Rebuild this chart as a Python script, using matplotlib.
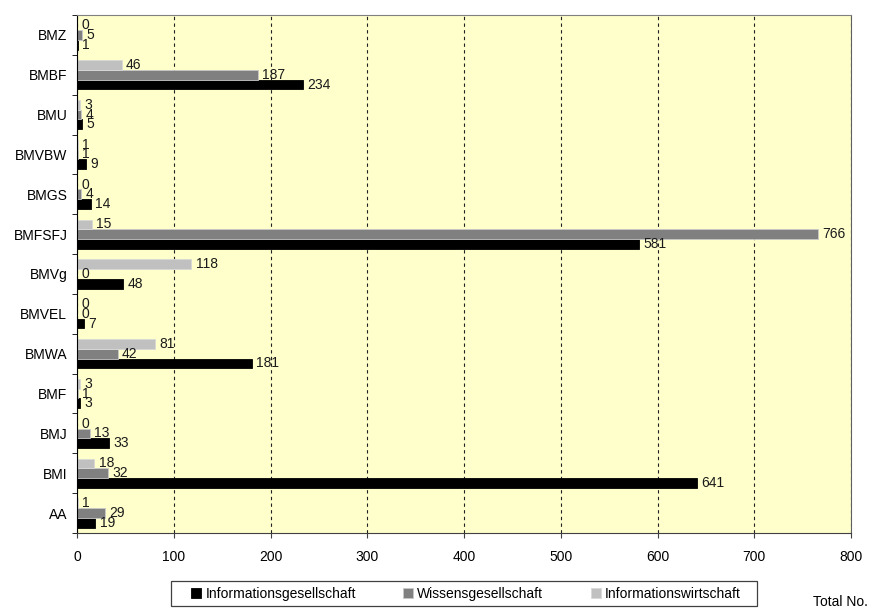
import numpy as np
import matplotlib.pyplot as plt
from matplotlib.patches import Rectangle

plt.rcParams['font.family'] = ['Liberation Sans', 'DejaVu Sans']
plt.rcParams['font.size'] = 10

ministries = ['AA', 'BMI', 'BMJ', 'BMF', 'BMWA', 'BMVEL', 'BMVg',
              'BMFSFJ', 'BMGS', 'BMVBW', 'BMU', 'BMBF', 'BMZ']
inf_gesellschaft = [19, 641, 33, 3, 181, 7, 48, 581, 14, 9, 5, 234, 1]
wis_gesellschaft = [29, 32, 13, 1, 42, 0, 0, 766, 4, 1, 4, 187, 5]
inf_wirtschaft = [1, 18, 0, 3, 81, 0, 118, 15, 0, 1, 3, 46, 0]
series_names = ['Informationsgesellschaft', 'Wissensgesellschaft',
                'Informationswirtschaft']

colors = ['#000000', '#808080', '#c0c0c0']
edges = ['#000000', '#c8c8c8', '#d8d8d8']

fig = plt.figure(figsize=(8.7, 6.1), dpi=100)
# plot area: x 77..851 px, y 15..533 px
ax = fig.add_axes([77 / 870, 1 - 533 / 610, 774 / 870, 518 / 610])
ax.set_facecolor('#ffffcc')

y = np.arange(len(ministries))
h = 0.245
offsets = [-h, 0, h]
for vals, off, col, ec, name in zip([inf_gesellschaft, wis_gesellschaft, inf_wirtschaft],
                                    offsets, colors, edges, series_names):
    ax.barh(y + off, vals, height=h, color=col, label=name,
            edgecolor=ec, linewidth=0.6)
    for yy, v in zip(y + off, vals):
        ax.text(v + 4.5, yy, str(v), va='center', ha='left',
                fontsize=10, color='#1a1a1a')

ax.set_xlim(0, 800)
ax.set_ylim(-0.5, len(ministries) - 0.5)
ax.set_xticks(np.arange(0, 801, 100))
ax.set_yticks(y)
ax.set_yticklabels(ministries)
ax.set_yticks(np.arange(-0.5, len(ministries), 1), minor=True)
ax.tick_params(axis='y', which='major', length=0, pad=7)
ax.tick_params(axis='y', which='minor', length=3.5, color='black')
ax.tick_params(axis='x', length=3.5, color='#404040', pad=9)
ax.xaxis.grid(True, linestyle=(0, (3, 3)), color='#202020', linewidth=0.8)
ax.set_axisbelow(True)

ax.spines['top'].set_color('#808080')
ax.spines['right'].set_color('#606060')
ax.spines['left'].set_color('black')
ax.spines['bottom'].set_color('#404040')

handles, labels = ax.get_legend_handles_labels()
leg = fig.legend(handles, labels, loc='center', bbox_to_anchor=(466 / 870, 0.027),
                 ncol=3, frameon=False, handlelength=0.72, handleheight=0.72,
                 handletextpad=0.3, columnspacing=3.4, fontsize=10)
fig.patches.append(Rectangle((171 / 870, 1 - 606 / 610), 586 / 870, 25 / 610,
                             transform=fig.transFigure, fill=False,
                             edgecolor='#404040', linewidth=0.9))

fig.text(868 / 870, 1 - 602 / 610, 'Total No.', ha='right', va='center', fontsize=10)

fig.savefig('out.png', dpi=100, facecolor='white')
